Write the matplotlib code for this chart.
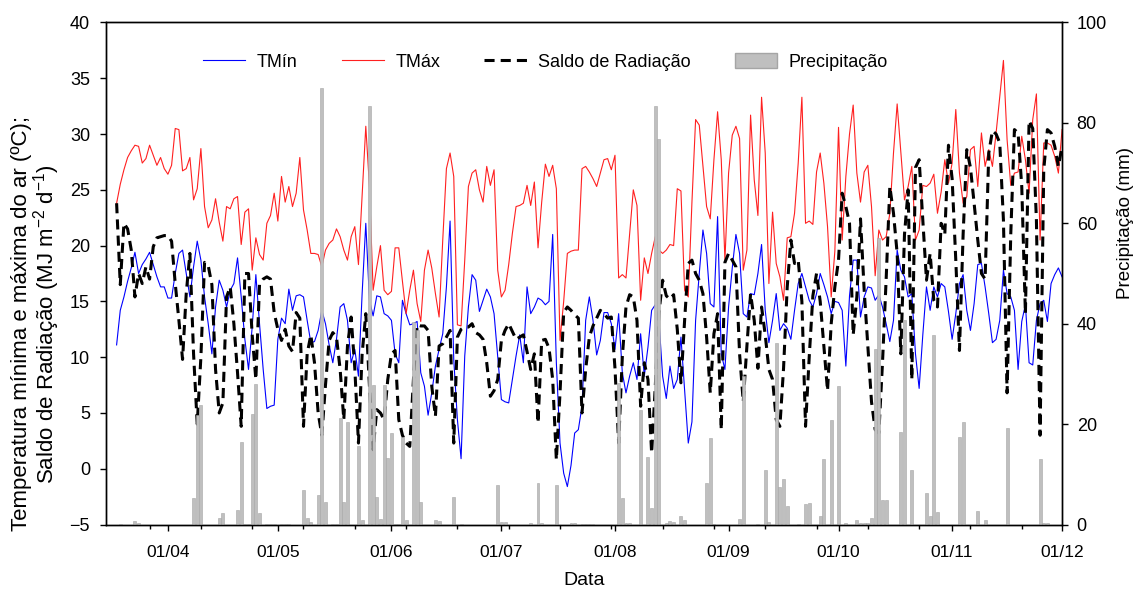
import numpy as np
import pandas as pd
import matplotlib
matplotlib.use('Agg')
import matplotlib.pyplot as plt
import matplotlib.dates as mdates
from matplotlib.lines import Line2D
from matplotlib.patches import Patch

plt.rcParams['font.family'] = ['Liberation Sans', 'DejaVu Sans']
plt.rcParams['mathtext.default'] = 'regular'

# daily series, 18/03 to 01/12
dates = pd.date_range('2013-03-18', '2013-12-01', freq='D')

tmax = [23.8, 25.5, 26.8, 27.9, 28.5, 29.0, 28.9, 27.4, 27.8, 29.0, 28.1, 27.2, 27.9, 26.9,
        26.4, 27.2, 30.5, 30.4, 26.7, 26.9, 27.9, 24.1, 25.1, 28.7, 23.5, 21.6, 22.3, 24.2, 22.1, 20.4, 23.5, 23.3,
        24.2, 24.4, 20.1, 23.0, 23.3, 17.8, 20.7, 19.2, 18.7, 22.0, 22.7, 24.7, 22.2, 26.2, 23.9, 25.3,
        23.5, 24.7, 27.9, 23.2, 21.4, 19.3, 19.3, 19.2, 18.1, 19.6, 20.2, 20.5, 21.5, 20.8, 19.6, 18.7,
        20.8, 21.7, 18.3, 24.5, 30.7, 25.3, 16.0, 18.1, 20.0, 16.0, 15.6, 15.9, 19.8, 19.8, 16.8, 13.9, 16.0,
        17.8, 14.8, 13.2, 17.8, 19.6, 18.0, 15.7, 13.6, 20.5, 26.9, 28.3, 26.2, 12.9, 12.8, 18.7, 25.3, 26.5,
        26.8, 25.0, 23.9, 27.1, 25.4, 26.8, 17.8, 15.4, 16.0, 18.3, 21.1, 23.5, 23.6, 23.8, 25.4, 23.6, 25.7,
        19.8, 23.9, 27.3, 26.2, 27.2, 25.1, 11.5, 15.0, 19.3, 19.5, 19.6, 19.6, 26.9, 27.1, 26.6, 26.0, 25.3,
        26.5, 27.7, 27.8, 26.8, 28.1, 17.1, 17.4, 17.1, 21.1, 25.0, 23.6, 15.1, 18.9, 17.5, 19.3, 20.8, 19.6,
        19.3, 19.6, 20.1, 20.0, 25.1, 24.9, 16.0, 15.4, 23.9, 31.3, 30.8, 27.1, 23.5, 22.4, 27.7, 32.0, 27.7,
        18.7, 26.5, 29.9, 30.7, 29.6, 17.8, 19.6, 31.7, 25.9, 22.7, 33.3, 28.3, 16.6, 23.0, 18.4, 17.2, 15.1,
        20.7, 20.8, 22.9, 27.4, 33.3, 22.0, 22.2, 21.9, 26.6, 28.3, 25.6, 21.7, 15.4, 19.5, 30.6, 20.5, 26.2,
        30.0, 32.6, 26.5, 23.9, 26.6, 27.2, 23.5, 17.3, 21.4, 20.5, 20.8, 22.9, 28.3, 32.7, 28.4, 24.1, 25.3,
        27.1, 20.5, 21.4, 25.4, 25.3, 25.6, 26.4, 22.9, 24.8, 27.7, 25.6, 27.4, 32.2, 26.5, 23.8, 24.4,
        28.6, 28.9, 25.3, 30.1, 27.1, 28.6, 27.1, 30.1, 33.4, 36.6, 29.5, 25.4, 26.5, 26.6, 29.8, 27.7, 24.7,
        31.3, 33.6, 20.5, 29.2, 29.2, 29.0, 28.0, 26.5, 30.4]

tmin = [11.1, 14.2, 15.4, 16.8, 18.0, 19.4, 17.5, 18.3, 18.8, 19.4, 18.3, 17.2, 16.3, 16.3,
        15.3, 15.3, 17.5, 19.3, 19.6, 17.5, 15.4, 18.1, 20.4, 18.7, 15.4, 13.0, 10.3, 14.5, 16.9, 16.0, 14.5, 16.0,
        16.6, 18.9, 15.4, 11.6, 8.9, 12.7, 17.4, 13.0, 8.9, 5.4, 5.6, 5.7, 11.6, 13.5, 13.0, 16.1,
        14.2, 15.5, 15.6, 15.4, 13.3, 11.3, 11.4, 12.4, 14.2, 13.0, 11.1, 9.5, 11.6, 14.5, 14.8, 13.3,
        9.5, 10.7, 8.3, 15.7, 22.0, 15.1, 13.7, 15.5, 15.4, 13.9, 13.7, 13.3, 10.3, 9.5, 15.1, 13.9, 12.9,
        13.0, 13.2, 8.6, 7.4, 4.8, 6.8, 9.2, 10.7, 12.1, 16.3, 22.2, 9.8, 4.4, 0.9, 10.1, 14.5, 17.4,
        16.9, 14.1, 15.1, 16.1, 15.4, 13.9, 10.1, 6.2, 6.0, 5.9, 8.0, 10.1, 12.0, 9.5, 16.3, 13.9, 14.5,
        15.3, 15.1, 14.7, 15.0, 21.0, 9.5, 2.3, -0.4, -1.6, 0.3, 3.2, 3.5, 5.6, 13.3, 15.4, 13.3, 10.2,
        11.5, 14.0, 14.0, 13.0, 10.7, 13.9, 8.6, 6.8, 8.3, 9.5, 8.0, 12.1, 8.3, 10.9, 14.2, 14.7, 13.3,
        8.3, 6.3, 9.2, 7.2, 8.0, 11.8, 7.1, 2.3, 4.2, 13.3, 17.5, 21.4, 19.3, 14.8, 14.5, 22.6, 10.3,
        8.9, 14.5, 18.0, 21.0, 19.3, 13.9, 13.6, 15.7, 15.6, 17.5, 20.1, 14.2, 11.3, 13.3, 15.7, 12.4, 13.0,
        12.6, 11.6, 14.2, 16.6, 17.5, 16.3, 15.1, 14.5, 15.7, 17.5, 16.5, 15.4, 13.9, 15.0, 14.9, 14.2, 9.2,
        15.5, 18.7, 18.7, 13.6, 15.4, 16.3, 16.2, 15.1, 15.6, 14.5, 13.0, 11.4, 13.3, 19.6, 17.8, 17.2, 15.4,
        15.7, 10.3, 7.2, 12.0, 16.3, 14.2, 16.3, 15.4, 16.6, 16.3, 14.1, 11.6, 13.9, 16.6, 17.4, 14.2,
        12.4, 14.8, 18.3, 18.4, 16.3, 13.9, 11.3, 11.6, 13.3, 17.8, 15.7, 15.4, 14.2, 8.9, 13.2, 14.7, 9.5,
        9.3, 13.3, 14.8, 15.1, 13.2, 16.6, 17.4, 18.0, 17.2]

saldo = [23.8, 16.5, 22.0, 21.5, 19.6, 15.4, 17.5, 16.6, 18.1, 17.0, 19.9, 20.7, 20.8, 20.9,
         20.9, 20.4, 16.6, 13.3, 9.8, 15.7, 19.3, 10.3, 4.0, 10.0, 18.5, 18.2, 16.5, 8.9, 5.0, 5.9, 15.4, 16.3,
         13.0, 8.6, 3.8, 17.5, 17.5, 12.0, 8.0, 16.5, 17.0, 17.2, 17.0, 14.0, 12.5, 11.5, 12.5, 11.0,
         10.5, 14.0, 13.5, 3.8, 10.3, 12.0, 9.5, 5.0, 3.0, 7.5, 11.5, 12.2, 11.8, 8.9, 4.4, 11.0,
         13.6, 9.0, 2.3, 10.3, 13.9, 7.4, 1.7, 5.3, 5.0, 4.4, 8.0, 10.3, 10.6, 4.4, 3.0, 2.3, 2.0,
         8.0, 12.9, 12.8, 12.8, 12.4, 7.4, 4.7, 11.0, 11.2, 11.8, 12.4, 2.3, 11.8, 12.5, 12.7, 12.7, 13.0,
         12.2, 12.0, 11.6, 9.5, 6.5, 7.0, 8.0, 11.5, 12.4, 13.0, 12.3, 11.6, 11.8, 12.0, 10.5, 8.9, 10.3,
         4.1, 11.5, 11.6, 10.8, 8.0, 0.8, 6.8, 14.0, 14.5, 14.2, 13.8, 13.5, 5.0, 8.9, 11.8, 12.8, 13.5,
         14.2, 13.9, 13.5, 13.6, 9.0, 2.3, 10.0, 14.5, 15.6, 15.4, 13.3, 5.6, 9.5, 8.0, 1.4, 7.4, 14.0,
         16.9, 15.5, 15.2, 15.6, 12.5, 7.7, 13.3, 18.4, 18.7, 17.5, 16.9, 15.7, 11.8, 6.8, 12.1, 13.9, 3.5,
         18.5, 19.3, 18.7, 18.1, 10.3, 6.0, 11.0, 15.7, 13.3, 9.0, 14.5, 12.0, 8.9, 8.0, 4.4, 3.8, 9.0,
         16.3, 20.5, 18.4, 18.7, 15.0, 3.8, 10.0, 15.5, 17.5, 15.0, 11.0, 7.0, 13.0, 16.3, 18.7, 24.7, 23.5,
         22.0, 12.0, 15.4, 22.4, 16.0, 11.0, 6.0, 3.5, 3.2, 9.5, 17.0, 25.3, 22.9, 19.3, 10.3, 21.0, 25.0,
         8.0, 27.0, 27.7, 22.3, 16.9, 19.3, 15.1, 14.5, 22.0, 21.0, 29.0, 26.0, 18.7, 10.6, 21.0, 28.6,
         27.0, 23.8, 20.5, 17.5, 17.0, 28.3, 30.3, 30.0, 29.2, 22.3, 6.8, 21.0, 30.4, 30.1, 25.3, 13.9, 31.2,
         30.5, 22.3, 3.0, 26.8, 30.4, 30.1, 28.9, 27.1, 28.9]

precip = [0, 0.2, 0, 0, 0, 0.7, 0.3, 0, 0, 0, 0, 0, 0, 0,  # mar
          0, 0, 0, 0, 0, 0, 0, 5.2, 21.8, 23.8, 0, 0, 0, 0, 1.2, 2.2, 0, 0, 0, 2.9,
          16.5, 0.2, 0.2, 22.0, 28.0, 2.2, 0, 0.2, 0.2, 0.2,  # abr
          0, 0.2, 0.2, 0.2, 0, 0, 0, 6.9, 1.2, 0.5, 0, 5.9, 87.0, 4.5, 0, 0.2, 0.2, 21.2,
          4.5, 20.5, 0, 0, 15.7, 0.9, 0, 83.3, 27.8, 5.5, 1.0, 27.8, 13.2,  # mai
          18.2, 0.2, 0.2, 17.5, 0.9, 0, 40.4, 38.8, 4.5, 0, 0, 0, 0.8, 0.6, 0, 0, 0, 5.5,
          0, 0.2, 0, 0, 0, 0, 0, 0, 0, 0, 0, 7.9,  # jun
          0.5, 0.5, 0, 0, 0, 0, 0, 0, 0.3, 0, 8.2, 0.3, 0, 0, 0, 7.9, 0, 0, 0, 0.3,
          0.3, 0, 0.2, 0.2, 0.2, 0.2, 0, 0, 0, 0, 0,  # jul
          0, 28.1, 5.2, 0.3, 0.3, 0, 0, 22.8, 0, 13.5, 3.2, 83.4, 76.8, 0, 0.3, 0.6, 0.5, 0,
          1.7, 0.9, 0, 0, 0, 0, 0, 8.2, 17.2, 0.2, 0, 0, 0,  # ago
          0, 0, 0, 1.1, 29.5, 0, 0, 0, 0.2, 0, 10.9, 0.5, 0, 36.1, 7.5, 9.0, 3.7, 0,
          0, 0.2, 0, 4.1, 4.3, 0, 0, 1.7, 13.0, 0, 20.8, 0,  # set
          27.5, 0, 0.3, 0, 0, 0.8, 0.3, 0.3, 0.3, 1.2, 35.0, 57.0, 4.9, 4.9, 0, 0, 0, 18.5,
          40.8, 0, 10.9, 0, 0, 0, 6.2, 1.6, 37.8, 2.4, 0, 0, 0,  # out
          0, 0, 17.5, 20.5, 0, 0, 0, 2.6, 0, 0.9, 0, 0, 0, 0, 0, 19.2, 0, 0,
          0, 0, 0, 0, 0, 0, 13.0, 0.3, 0.3, 0, 0, 0,  # nov
          0]

fig = plt.figure(figsize=(11.42, 5.92), dpi=100)
ax = fig.add_axes([0.0928, 0.114, 0.8372, 0.848])
ax2 = ax.twinx()

ax.plot(dates, tmin, color='#0000ff', lw=0.8)
ax.plot(dates, tmax, color='#ff2020', lw=0.8)
ax.plot(dates, saldo, color='black', lw=2.2, linestyle=(0, (3.3, 2.0)))
ax2.bar(dates, precip, width=0.8, color='#bfbfbf', edgecolor='#a5a5a5', linewidth=0.4)

ax.set_ylim(-5, 40)
ax.set_yticks(np.arange(-5, 41, 5))
ax2.set_ylim(0, 100)
ax2.set_yticks(np.arange(0, 101, 20))
ax.set_xlim(pd.Timestamp('2013-04-01') - pd.Timedelta(days=16.9), pd.Timestamp('2013-12-01'))

ax.xaxis.set_major_locator(mdates.MonthLocator())
ax.xaxis.set_major_formatter(mdates.DateFormatter('%d/%m'))
minor = pd.date_range('2013-03-27', '2013-11-30', freq='14D')
ax.xaxis.set_minor_locator(matplotlib.ticker.FixedLocator(mdates.date2num(minor)))

ax.tick_params(axis='y', direction='out', length=4.5, width=1, labelsize=13, pad=7)
ax.tick_params(axis='x', which='major', direction='out', length=4.5, width=1, labelsize=12.5, pad=10)
ax.tick_params(axis='x', which='minor', direction='out', length=3, width=1)
ax2.tick_params(axis='y', direction='out', length=4.5, width=1, labelsize=13, pad=6)
for a in (ax, ax2):
    for s in a.spines.values():
        s.set_linewidth(1.0)

ax.set_xlabel('Data', fontsize=14)
ax.xaxis.set_label_coords(0.5, -0.095)
ax.set_ylabel('Temperatura mínima e máxima do ar (ºC);\nSaldo de Radiação (MJ m$^{-2}$ d$^{-1}$)',
              fontsize=16, linespacing=0.95)
ax.yaxis.set_label_coords(-0.046, 0.4)
ax2.set_ylabel('Precipitação (mm)', fontsize=13.5)
ax2.yaxis.set_label_coords(1.057, 0.6)

handles = [Line2D([], [], color='#0000ff', lw=0.8),
           Line2D([], [], color='#ff2020', lw=0.8),
           Line2D([], [], color='black', lw=2.2, linestyle=(0, (3.3, 2.0))),
           Patch(facecolor='#bfbfbf', edgecolor='#a5a5a5')]
labels = ['TMín', 'TMáx', 'Saldo de Radiação', 'Precipitação']
ax2.legend(handles, labels, loc='center', bbox_to_anchor=(0.4596, 0.921), ncol=4,
           frameon=False, fontsize=13, handlelength=2.35, handletextpad=0.62,
           columnspacing=2.45, handleheight=0.9)

fig.savefig('out.png', dpi=100)
